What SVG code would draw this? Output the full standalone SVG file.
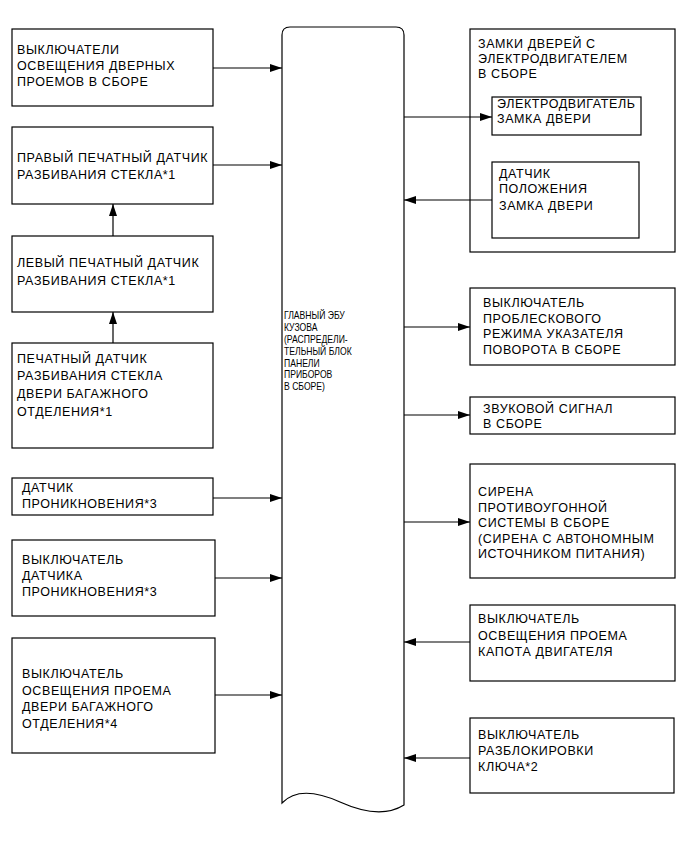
<svg xmlns="http://www.w3.org/2000/svg" width="691" height="855" viewBox="0 0 691 855">
<defs>
<style>
.b{fill:#fff;stroke:#000;stroke-width:1.2}
.t{font-family:"Liberation Sans",Arial,sans-serif;font-size:12.5px;letter-spacing:0.6px;fill:#000}
.c{font-family:"Liberation Sans",Arial,sans-serif;font-size:10.5px;fill:#000}
.l{fill:none;stroke:#000;stroke-width:1.2}
</style>
<marker id="ah" markerUnits="userSpaceOnUse" markerWidth="12" markerHeight="8" refX="12" refY="4" orient="auto">
<path d="M0,0 L12,4 L0,8 z" fill="#000"/>
</marker>
</defs>
<rect width="691" height="855" fill="#fff"/>

<g id="bus">
<path class="b" d="M282,803 L282,35 Q282,27 290,27 L396,27 Q404,27 404,35 L404,805 Q380,820 340,802 Q300,784 282,803 z"/>
<text class="c" transform="translate(284,0) scale(0.82,1)"><tspan x="0" y="319">ГЛАВНЫЙ ЭБУ</tspan><tspan x="0" y="331">КУЗОВА</tspan><tspan x="0" y="343">(РАСПРЕДЕЛИ-</tspan><tspan x="0" y="355">ТЕЛЬНЫЙ БЛОК</tspan><tspan x="0" y="367">ПАНЕЛИ</tspan><tspan x="0" y="378">ПРИБОРОВ</tspan><tspan x="0" y="390">В СБОРЕ)</tspan></text>
</g>

<g id="n1"><rect class="b" x="12" y="29" width="201" height="77"/>
<text class="t"><tspan x="17" y="54">ВЫКЛЮЧАТЕЛИ</tspan><tspan x="17" y="70">ОСВЕЩЕНИЯ ДВЕРНЫХ</tspan><tspan x="17" y="86">ПРОЕМОВ В СБОРЕ</tspan></text></g>

<g id="n2"><rect class="b" x="12" y="127" width="201" height="77"/>
<text class="t"><tspan x="17" y="162">ПРАВЫЙ ПЕЧАТНЫЙ ДАТЧИК</tspan><tspan x="17" y="179">РАЗБИВАНИЯ СТЕКЛА*1</tspan></text></g>

<g id="n3"><rect class="b" x="12" y="236" width="201" height="76"/>
<text class="t"><tspan x="17" y="267">ЛЕВЫЙ ПЕЧАТНЫЙ ДАТЧИК</tspan><tspan x="17" y="285">РАЗБИВАНИЯ СТЕКЛА*1</tspan></text></g>

<g id="n4"><rect class="b" x="12" y="343" width="201" height="105"/>
<text class="t"><tspan x="17" y="363">ПЕЧАТНЫЙ ДАТЧИК</tspan><tspan x="17" y="380">РАЗБИВАНИЯ СТЕКЛА</tspan><tspan x="17" y="398">ДВЕРИ БАГАЖНОГО</tspan><tspan x="17" y="416">ОТДЕЛЕНИЯ*1</tspan></text></g>

<g id="n5"><rect class="b" x="12" y="478" width="201" height="37"/>
<text class="t"><tspan x="22" y="492">ДАТЧИК</tspan><tspan x="22" y="508">ПРОНИКНОВЕНИЯ*3</tspan></text></g>

<g id="n6"><rect class="b" x="12" y="540" width="203" height="76"/>
<text class="t"><tspan x="22" y="564">ВЫКЛЮЧАТЕЛЬ</tspan><tspan x="22" y="580">ДАТЧИКА</tspan><tspan x="22" y="596">ПРОНИКНОВЕНИЯ*3</tspan></text></g>

<g id="n7"><rect class="b" x="12" y="638" width="203" height="115"/>
<text class="t"><tspan x="22" y="678">ВЫКЛЮЧАТЕЛЬ</tspan><tspan x="22" y="695">ОСВЕЩЕНИЯ ПРОЕМА</tspan><tspan x="22" y="711">ДВЕРИ БАГАЖНОГО</tspan><tspan x="22" y="728">ОТДЕЛЕНИЯ*4</tspan></text></g>

<g id="n8"><rect class="b" x="470" y="29" width="205" height="223"/>
<text class="t"><tspan x="478" y="48">ЗАМКИ ДВЕРЕЙ С</tspan><tspan x="478" y="63">ЭЛЕКТРОДВИГАТЕЛЕМ</tspan><tspan x="478" y="78">В СБОРЕ</tspan></text></g>

<g id="n9"><rect class="b" x="492" y="97" width="149" height="38"/>
<text class="t"><tspan x="497" y="108">ЭЛЕКТРОДВИГАТЕЛЬ</tspan><tspan x="497" y="123">ЗАМКА ДВЕРИ</tspan></text></g>

<g id="n10"><rect class="b" x="492" y="162" width="147" height="76"/>
<text class="t"><tspan x="499" y="178">ДАТЧИК</tspan><tspan x="499" y="193">ПОЛОЖЕНИЯ</tspan><tspan x="499" y="210">ЗАМКА ДВЕРИ</tspan></text></g>

<g id="n11"><rect class="b" x="470" y="288" width="205" height="77"/>
<text class="t"><tspan x="483" y="307">ВЫКЛЮЧАТЕЛЬ</tspan><tspan x="483" y="323">ПРОБЛЕСКОВОГО</tspan><tspan x="483" y="338">РЕЖИМА УКАЗАТЕЛЯ</tspan><tspan x="483" y="354">ПОВОРОТА В СБОРЕ</tspan></text></g>

<g id="n12"><rect class="b" x="470" y="397" width="205" height="37"/>
<text class="t"><tspan x="483" y="413">ЗВУКОВОЙ СИГНАЛ</tspan><tspan x="483" y="428">В СБОРЕ</tspan></text></g>

<g id="n13"><rect class="b" x="470" y="464" width="205" height="114"/>
<text class="t"><tspan x="478" y="496">СИРЕНА</tspan><tspan x="478" y="512">ПРОТИВОУГОННОЙ</tspan><tspan x="478" y="527">СИСТЕМЫ В СБОРЕ</tspan><tspan x="478" y="543">(СИРЕНА С АВТОНОМНЫМ</tspan><tspan x="478" y="558">ИСТОЧНИКОМ ПИТАНИЯ)</tspan></text></g>

<g id="n14"><rect class="b" x="470" y="605" width="205" height="76"/>
<text class="t"><tspan x="478" y="623">ВЫКЛЮЧАТЕЛЬ</tspan><tspan x="478" y="640">ОСВЕЩЕНИЯ ПРОЕМА</tspan><tspan x="478" y="656">КАПОТА ДВИГАТЕЛЯ</tspan></text></g>

<g id="n15"><rect class="b" x="470" y="718" width="204" height="75"/>
<text class="t"><tspan x="478" y="739">ВЫКЛЮЧАТЕЛЬ</tspan><tspan x="478" y="755">РАЗБЛОКИРОВКИ</tspan><tspan x="478" y="771">КЛЮЧА*2</tspan></text></g>

<g id="connectors">
<line class="l" x1="213" y1="68" x2="282" y2="68" marker-end="url(#ah)"/>
<line class="l" x1="213" y1="165" x2="282" y2="165" marker-end="url(#ah)"/>
<line class="l" x1="113" y1="236" x2="113" y2="204" marker-end="url(#ah)"/>
<line class="l" x1="113" y1="343" x2="113" y2="312" marker-end="url(#ah)"/>
<line class="l" x1="213" y1="498" x2="282" y2="498" marker-end="url(#ah)"/>
<line class="l" x1="215" y1="578" x2="282" y2="578" marker-end="url(#ah)"/>
<line class="l" x1="215" y1="695" x2="282" y2="695" marker-end="url(#ah)"/>
<line class="l" x1="404" y1="117" x2="492" y2="117" marker-end="url(#ah)"/>
<line class="l" x1="492" y1="200" x2="404" y2="200" marker-end="url(#ah)"/>
<line class="l" x1="404" y1="327" x2="470" y2="327" marker-end="url(#ah)"/>
<line class="l" x1="404" y1="415" x2="470" y2="415" marker-end="url(#ah)"/>
<line class="l" x1="404" y1="522" x2="470" y2="522" marker-end="url(#ah)"/>
<line class="l" x1="470" y1="642" x2="404" y2="642" marker-end="url(#ah)"/>
<line class="l" x1="470" y1="758" x2="404" y2="758" marker-end="url(#ah)"/>
</g>
</svg>
